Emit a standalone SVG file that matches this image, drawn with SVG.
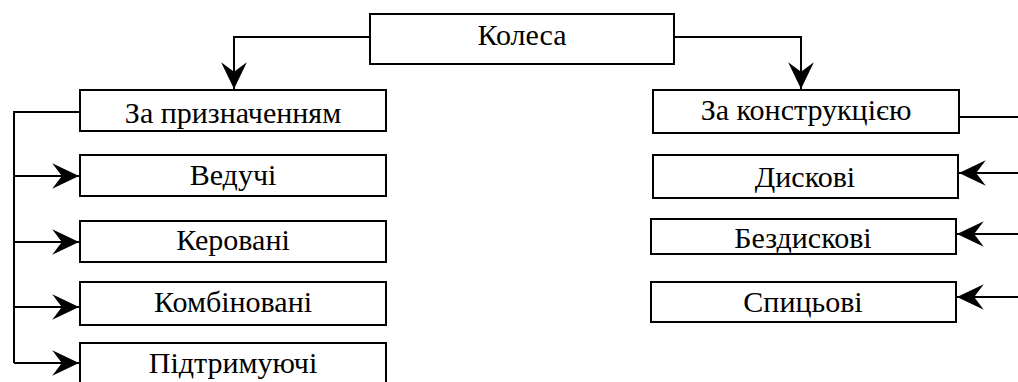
<svg xmlns="http://www.w3.org/2000/svg" width="1018" height="382" viewBox="0 0 1018 382">
<style>
.box{fill:#fff;stroke:#000;stroke-width:2}
.t{font-family:'Liberation Serif','Times New Roman','DejaVu Serif',serif;font-size:30px;fill:#000;text-anchor:middle}
.c{fill:none;stroke:#000;stroke-width:2}
</style>
<defs>
<marker id="ah" markerUnits="userSpaceOnUse" markerWidth="30" markerHeight="30" viewBox="-26 -13 28 26" refX="0" refY="0" orient="auto">
<path d="M0,0 L-25,-12 L-16,0 L-25,12 Z" fill="#000"/>
</marker>
</defs>
<rect width="1018" height="382" fill="#fff"/>
<g id="connectors">
<path class="c" d="M370,37 H234 V89" marker-end="url(#ah)"/>
<path class="c" d="M674,37 H801 V89" marker-end="url(#ah)"/>
<path class="c" d="M80,112 H14 V363"/>
<path class="c" d="M14,176 H79" marker-end="url(#ah)"/>
<path class="c" d="M14,242 H79" marker-end="url(#ah)"/>
<path class="c" d="M14,307 H79" marker-end="url(#ah)"/>
<path class="c" d="M14,363 H79" marker-end="url(#ah)"/>
<path class="c" d="M959,117 H1018"/>
<path class="c" d="M1018,173 H959" marker-end="url(#ah)"/>
<path class="c" d="M1018,234 H957" marker-end="url(#ah)"/>
<path class="c" d="M1018,297 H957" marker-end="url(#ah)"/>
</g>
<g id="kolesa"><rect class="box" x="370" y="14" width="304" height="50"/><text class="t" font-family="Liberation Serif, serif" x="522" y="45">Колеса</text></g>
<g id="za-pryznach"><rect class="box" x="80" y="90" width="306" height="41"/><text class="t" x="233" y="123">За призначенням</text></g>
<g id="veduchi"><rect class="box" x="80" y="155" width="306" height="41"/><text class="t" x="233" y="185">Ведучі</text></g>
<g id="kerovani"><rect class="box" x="80" y="221" width="306" height="41"/><text class="t" x="233" y="250">Керовані</text></g>
<g id="kombinovani"><rect class="box" x="80" y="282" width="306" height="43"/><text class="t" x="233" y="312">Комбіновані</text></g>
<g id="pidtrymuyuchi"><rect class="box" x="80" y="343" width="306" height="42"/><text class="t" x="233" y="373">Підтримуючі</text></g>
<g id="za-konstr"><rect class="box" x="653" y="90" width="306" height="43"/><text class="t" x="806" y="120">За конструкцією</text></g>
<g id="dyskovi"><rect class="box" x="653" y="155" width="305" height="43"/><text class="t" x="805" y="187">Дискові</text></g>
<g id="bezdyskovi"><rect class="box" x="651" y="219" width="305" height="35"/><text class="t" x="803" y="248">Бездискові</text></g>
<g id="spytsovi"><rect class="box" x="651" y="282" width="305" height="40"/><text class="t" x="803" y="312">Спицьові</text></g>
</svg>
